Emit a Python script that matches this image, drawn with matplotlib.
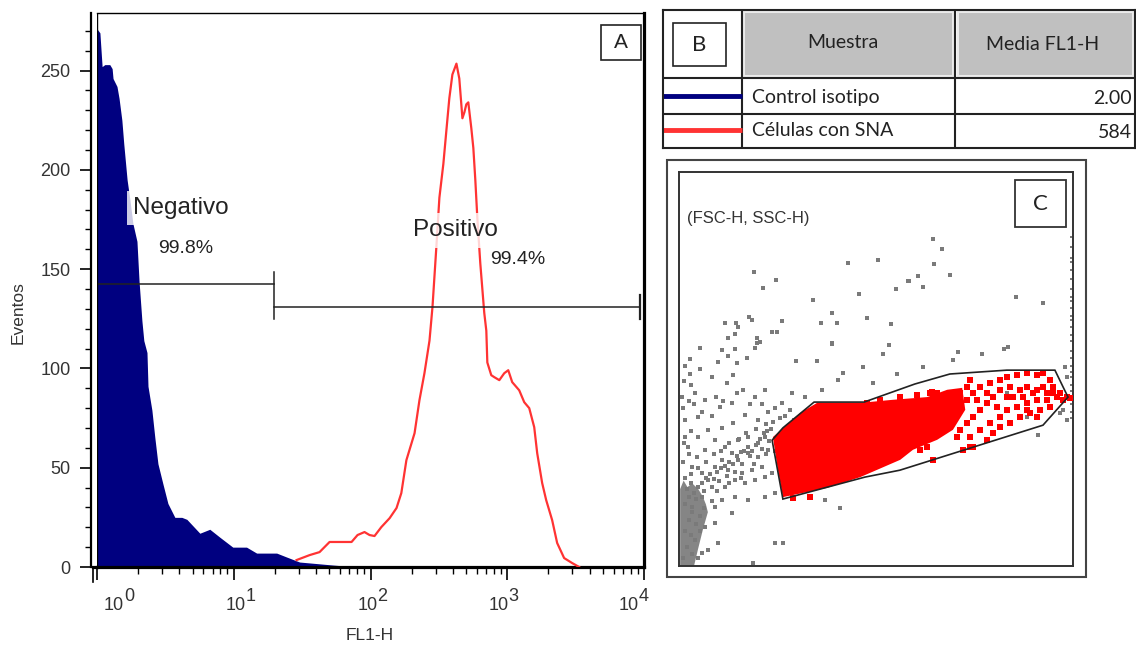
import matplotlib
matplotlib.use("Agg")
import matplotlib.pyplot as plt
from matplotlib.patches import Rectangle, Polygon
from matplotlib.ticker import MultipleLocator, LogLocator, NullFormatter, FixedLocator

plt.rcParams["font.family"] = ["Liberation Sans", "DejaVu Sans"]

# --- histogram data (FL1-H channel value, events) ---
neg_fl1 = [1.0, 1.05, 1.09, 1.14, 1.24, 1.29, 1.31, 1.40, 1.45, 1.52, 1.57, 1.66, 1.74,
           1.83, 1.96, 2.03, 2.13, 2.20, 2.32, 2.36, 2.52, 2.65, 2.79, 3.03, 3.30, 3.71,
           4.17, 4.54, 5.65, 6.68, 7.91, 9.84, 12.4, 14.7, 20.6, 24.4, 30.3, 52.8, 80.0,
           10000.0]
neg_counts = [271, 269, 252, 253, 253, 251, 246, 242, 236, 225, 213, 195, 185,
              173, 164, 144, 124, 114, 108, 91, 79, 65, 52, 42, 32, 25,
              25, 24, 17, 19, 15, 10, 10, 7, 7, 5, 2.5, 1, 0,
              0]

pos_fl1 = [28.8, 35.9, 42.4, 50.2, 72.7, 80.4, 90.4, 98.4, 107, 120, 138, 155, 168, 183,
           210, 228, 248, 270, 284, 303, 319, 341, 359, 377, 397, 425, 446, 470, 486,
           502, 519, 546, 565, 584, 604, 635, 679, 703, 715, 764, 804, 875, 951, 1017,
           1087, 1223, 1331, 1448, 1575, 1656, 1800, 1926, 2130, 2317, 2606, 2981, 3356]
pos_counts = [3.5, 6.0, 7.5, 12.6, 12.6, 16.1, 17.6, 16.1, 15.6, 20.1, 24.6, 29.7, 37.2, 53.8,
              67.4, 84.0, 97.6, 114, 131, 161, 186, 203, 220, 236, 248, 253.5, 246, 226, 229,
              233, 234, 221, 211, 195, 176, 153, 128, 119, 103, 96.6, 95.6, 94.1, 97.6, 99.1,
              93.1, 89.0, 83.0, 80.0, 70.4, 57.3, 42.3, 33.7, 23.6, 12.1, 4.5, 2.0, 0]

# marker gates (FL1-H limits, height in events)
neg_gate = [1.0, 19.6]
neg_gate_y = 142.4
pos_gate = [19.6, 9400.0]
pos_gate_y = 130.8
gate_pct = ["99.8%", "99.4%"]

# --- summary table ---
sample_names = ["Control isotipo", "Células con SNA"]
sample_means = ["2.00", "584"]
sample_colors = ["#000080", "#ff3333"]
table_headers = ["Muestra", "Media FL1-H"]

# --- FSC-H / SSC-H dot plot (channels 0-1023) ---
gate_fsc = [242, 270, 351, 481, 613, 704, 852, 977, 1011, 946, 574, 483, 270]
gate_ssc = [327, 359, 426, 426, 473, 499, 509, 509, 439, 366, 249, 231, 174]

# solid part of the gated population
core_fsc = [244, 315, 359, 471, 556, 645, 697, 736, 744, 712, 671, 608, 575, 515, 471, 385,
            270, 257]
core_ssc = [335, 398, 424, 424, 432, 439, 458, 463, 406, 354, 328, 302, 276, 250, 231, 203,
            179, 250]

red_fsc = [757, 765, 783, 809, 835, 852, 878, 904, 930, 947, 965, 973, 956, 930, 904, 887,
           861, 835, 817, 800, 783, 765, 748, 731, 722, 757, 783, 809, 835, 852, 878, 904,
           930, 956, 982, 999, 939, 913, 887, 861, 835, 817, 800, 765, 739, 852, 869, 895,
           921, 947, 973, 731, 748, 713, 696, 679, 661, 627, 644, 696, 670, 657, 731, 748,
           800, 826, 774, 965, 991, 930, 904, 1008, 1017, 757, 341, 297, 367, 401, 436, 488,
           523, 575, 618, 653]
red_ssc = [484, 449, 466, 475, 484, 492, 497, 501, 497, 501, 484, 466, 449, 458, 466, 458,
           466, 458, 440, 423, 406, 388, 371, 354, 336, 336, 354, 371, 388, 406, 414, 423,
           432, 432, 440, 432, 406, 397, 388, 371, 362, 345, 328, 310, 302, 440, 440, 440,
           449, 466, 449, 406, 432, 380, 362, 345, 276, 302, 310, 440, 449, 453, 449, 466,
           449, 414, 432, 414, 449, 388, 406, 440, 436, 310, 180, 176, 414, 414, 406, 423,
           432, 440, 445, 449]

grey_core_fsc = [3, 3, 12, 22, 34, 50, 62, 70, 75, 62, 49, 39]
grey_core_ssc = [0, 200, 222, 205, 215, 200, 180, 160, 140, 94, 42, 0]

grey_fsc = [439, 517, 195, 252, 218, 595, 468, 564, 348, 398, 489, 551, 369, 411, 182, 190,
            268, 120, 148, 153, 242, 255, 146, 127, 203, 211, 398, 546, 55, 112, 146, 198,
            660, 684, 663, 621, 598, 705, 634, 876, 946, 725, 788, 845, 855,
            29, 55, 101, 127, 151, 86, 125, 140, 177, 203, 304, 359, 398, 426, 413, 478,
            504, 530, 567, 29, 8, 42, 68, 107, 138, 166, 198, 224, 268, 294, 328, 372,
            172, 205, 231, 263, 289, 140, 112, 75, 49, 16,
            94, 120, 153, 179, 205, 224, 231, 205, 179, 153, 138, 112, 94, 127, 164, 190,
            216, 224, 198, 172, 146, 120, 250, 242, 224, 179, 146, 112, 94, 138, 94, 68,
            101, 75, 49, 192, 250, 270, 419, 380, 60, 42, 34, 60, 75, 60, 47, 23, 16, 49,
            68, 34,
            853, 905, 998, 1004, 1008, 990, 634, 712, 933, 1008,
            20, 30, 40, 50, 60, 70, 80, 90, 100, 110, 120, 130, 140, 150, 160, 170,
            180, 190, 200, 210, 220, 230, 240, 235, 215, 185, 165, 145, 125, 105, 85, 65,
            45, 25, 15, 35, 55, 45, 25, 15, 30, 20, 35, 10, 55, 65, 85, 100,
            130, 160, 195, 225, 250, 255, 245, 225, 200, 175, 155, 130, 110, 90, 70, 50,
            30, 15, 10, 25, 12, 30, 10, 25, 12, 30, 15, 40, 60, 85, 95, 115,
            150, 185, 215, 250, 275, 300, 320]
grey_ssc = [788, 796, 764, 744, 723, 741, 707, 720, 692, 658, 645, 629, 632, 632, 647, 640,
            637, 632, 632, 621, 608, 608, 603, 593, 593, 582, 577, 575, 567, 562, 564, 567,
            850, 824, 785, 754, 741, 757, 725, 699, 684, 556, 551, 564, 569,
            538, 512, 530, 546, 528, 491, 476, 497, 541, 580, 533, 533, 580, 502, 484, 517,
            476, 551, 499, 499, 439, 450, 432, 413, 424, 458, 439, 458, 424, 450, 439, 458,
            393, 380, 400, 385, 406, 372, 359, 354, 387, 380,
            328, 309, 328, 335, 320, 335, 302, 283, 294, 276, 294, 276, 257, 250, 242, 250,
            257, 231, 224, 216, 224, 205, 190, 242, 179, 172, 179, 172, 153, 138, 112, 101,
            60, 42, 21, 8, 60, 60, 151, 172, 34, 68, 153, 179, 224, 242, 283, 309, 335, 335,
            302, 257,
            450, 387, 406, 517, 491, 398, 517, 535, 340, 380,
            200, 215, 190, 205, 215, 230, 240, 225, 245, 255, 260, 270, 265, 285, 295, 300,
            310, 300, 315, 330, 345, 350, 355, 325, 305, 285, 265, 245, 235, 220, 205, 195,
            175, 180, 160, 140, 130, 110, 120, 90, 80, 50, 30, 20, 90, 150, 170, 195,
            215, 230, 265, 290, 300, 330, 375, 370, 355, 345, 330, 320, 300, 290, 270, 255,
            240, 230, 270, 290, 320, 350, 410, 430, 480, 470, 520, 420, 400, 390, 440, 430,
            450, 420, 420, 410, 390, 380, 360]

# events piled up at the FSC-H ceiling
sat_ssc = [855, 830, 800, 790, 770, 745, 720, 700, 690, 670, 650, 640, 620, 600, 585,
           560, 540, 520, 505, 490, 470, 455, 440, 420, 400, 385]

W, H = 1136, 650
fig = plt.figure(figsize=(W / 100, H / 100), dpi=100)


def px_box(x0, y0, x1, y1):
    return [x0 / W, 1 - y1 / H, (x1 - x0) / W, (y1 - y0) / H]


# ---------------- A: FL1-H histogram ----------------
ax = fig.add_axes(px_box(97, 13, 644, 567))
ax.set_xscale("log")
ax.set_xlim(1, 1e4)
ax.set_ylim(0, 279)

ax.fill_between(neg_fl1, neg_counts, 0, color="#000080", lw=0, zorder=2)
ax.plot(pos_fl1, pos_counts, color="#ff3333", lw=1.6, zorder=3)

gc = "#222222"
ax.plot(neg_gate, [neg_gate_y] * 2, color=gc, lw=1.1, zorder=4)
ax.plot(pos_gate, [pos_gate_y] * 2, color=gc, lw=1.1, zorder=4)
ax.plot([neg_gate[1]] * 2, [neg_gate_y + 6, pos_gate_y - 6], color=gc, lw=1.1, zorder=4)
ax.plot([pos_gate[1]] * 2, [pos_gate_y + 6, pos_gate_y - 6], color=gc, lw=1.6, zorder=4)

box = dict(boxstyle="square,pad=0.25", fc="white", ec="none", alpha=0.8)
ax.text(1.83, 180.6, "Negativo", fontsize=17.5, color="#222", ha="left", va="center",
        bbox=box, zorder=5)
ax.text(2.79, 160.5, gate_pct[0], fontsize=14, color="#222", ha="left", va="center", zorder=5)
ax.text(203, 169.5, "Positivo", fontsize=17.5, color="#222", ha="left", va="center",
        bbox=box, zorder=5)
ax.text(751, 155, gate_pct[1], fontsize=14, color="#222", ha="left", va="center", zorder=5)

# spines
ax.spines["left"].set_position(("outward", 4))
ax.spines["left"].set_linewidth(1.6)
ax.spines["bottom"].set_linewidth(2.3)
ax.spines["right"].set_linewidth(2.3)
ax.spines["top"].set_linewidth(1.0)
ax.axvline(1, color="black", lw=1.0, zorder=6)
fig.add_artist(plt.Line2D([93 / W, 97 / W], [1 - 567 / H] * 2, color="black", lw=2.3))
fig.add_artist(plt.Line2D([93 / W] * 2, [1 - 567 / H, 1 - 582 / H], color="black", lw=1.2))

ax.yaxis.set_major_locator(FixedLocator([0, 50, 100, 150, 200, 250]))
ax.yaxis.set_minor_locator(MultipleLocator(10))
ax.tick_params(axis="y", which="major", length=8, width=1.2, pad=7, labelsize=13,
               labelcolor="#333")
ax.tick_params(axis="y", which="minor", length=4, width=1.0)
ax.xaxis.set_major_locator(FixedLocator([1, 10, 100, 1000, 10000]))
ax.xaxis.set_minor_locator(LogLocator(base=10, subs=[2, 3, 4, 5, 6, 7, 8, 9]))
ax.xaxis.set_major_formatter(NullFormatter())
ax.xaxis.set_minor_formatter(NullFormatter())
ax.tick_params(axis="x", which="major", length=9, width=1.2)
ax.tick_params(axis="x", which="minor", length=5, width=1.0)

# decade labels with full-size exponents
label_shift = [17, 2, -3, -9, -15]
for d, sh in enumerate(label_shift):
    ax.annotate("10", xy=(10 ** d, 0), xycoords=("data", "axes fraction"),
                xytext=(sh * 0.72, -27.4), textcoords="offset points",
                ha="center", va="center", fontsize=13, color="#333", annotation_clip=False)
    ax.annotate(str(d), xy=(10 ** d, 0), xycoords=("data", "axes fraction"),
                xytext=((sh + 15) * 0.72, -21.5), textcoords="offset points",
                ha="center", va="center", fontsize=13, color="#333", annotation_clip=False)

fig.text(18 / W, 1 - 313 / H, "Eventos", rotation=90, ha="center", va="center",
         fontsize=12.5, color="#333")
fig.text(370 / W, 1 - 636 / H, "FL1-H", ha="center", va="center", fontsize=12.5, color="#333")

ax.add_patch(Rectangle((0.921, 0.915), 0.073, 0.063, transform=ax.transAxes,
                       fc="white", ec="#222", lw=1.2, zorder=6))
ax.text(0.9575, 0.9465, "A", transform=ax.transAxes, ha="center", va="center",
        fontsize=15, color="#222", zorder=7)

# ---------------- B: summary table ----------------
tab = fig.add_axes(px_box(663, 10, 1135, 148))
tab.set_xlim(0, 472)
tab.set_ylim(138, 0)
tab.set_xticks([])
tab.set_yticks([])
for s in tab.spines.values():
    s.set_linewidth(1.5)
    s.set_color("#222")
tab.add_patch(Rectangle((81, 2), 209, 64, fc="#c0c0c0", ec="#ebebeb", lw=1.5))
tab.add_patch(Rectangle((295, 2), 175, 64, fc="#c0c0c0", ec="#ebebeb", lw=1.5))
for xv in (79, 292):
    tab.plot([xv, xv], [0, 138], color="#222", lw=1.5)
for yv in (68, 104):
    tab.plot([0, 472], [yv, yv], color="#222", lw=1.5)
tab.add_patch(Rectangle((10, 13), 53, 43, fc="white", ec="#222", lw=1.2))
tfont = ["Lato", "DejaVu Sans"]
tab.text(36.5, 35, "B", ha="center", va="center", fontsize=16, family=tfont, color="#222")
tab.text(180, 32, table_headers[0], ha="center", va="center", fontsize=14,
         family=tfont, color="#222")
tab.text(380, 35, table_headers[1], ha="center", va="center", fontsize=14,
         family=tfont, color="#222")
row_y = [87, 121]
for name, mean, col, y in zip(sample_names, sample_means, sample_colors, row_y):
    tab.plot([0, 79], [y - 1, y - 1], color=col, lw=3.5, solid_capstyle="butt")
    tab.text(89, y, name, ha="left", va="center", fontsize=14, family=tfont, color="#222")
    tab.text(469, y + 2, mean, ha="right", va="center", fontsize=14, family=tfont, color="#222")

# ---------------- C: FSC-H vs SSC-H dot plot ----------------
fig.add_artist(Rectangle((667 / W, 1 - 577 / H), 419 / W, 417 / H, transform=fig.transFigure,
                         fill=False, ec="#444", lw=1.5))
dp = fig.add_axes(px_box(679, 172, 1073, 566))
dp.set_xlim(0, 1024)
dp.set_ylim(0, 1024)
dp.set_xticks([])
dp.set_yticks([])
for s in dp.spines.values():
    s.set_linewidth(1.4)
    s.set_color("#333")

dp.add_patch(Polygon(list(zip(grey_core_fsc, grey_core_ssc)), closed=True,
                     fc="#858585", ec="none", zorder=1))
dp.scatter(grey_fsc, grey_ssc, s=6, c="#7a7a7a", marker="s", lw=0, zorder=2)
dp.scatter([1018] * len(sat_ssc), sat_ssc, s=4, c="#7a7a7a", marker="s", lw=0, zorder=2)
dp.add_patch(Polygon(list(zip(core_fsc, core_ssc)), closed=True, fc="#ff0000", ec="none",
                     zorder=3))
dp.scatter(red_fsc, red_ssc, s=16, c="#ff0000", marker="s", lw=0, zorder=3)
dp.add_patch(Polygon(list(zip(gate_fsc, gate_ssc)), closed=True, fill=False, ec="#222",
                     lw=1.2, zorder=4))

dp.text(0.02, 0.883, "(FSC-H, SSC-H)", transform=dp.transAxes, ha="left", va="center",
        fontsize=12, color="#333")
dp.add_patch(Rectangle((0.853, 0.860), 0.129, 0.120, transform=dp.transAxes,
                       fc="white", ec="#333", lw=1.3, zorder=5))
dp.text(0.9175, 0.918, "C", transform=dp.transAxes, ha="center", va="center",
        fontsize=16, family=tfont, color="#222", zorder=6)

fig.savefig("out.png", dpi=100)
